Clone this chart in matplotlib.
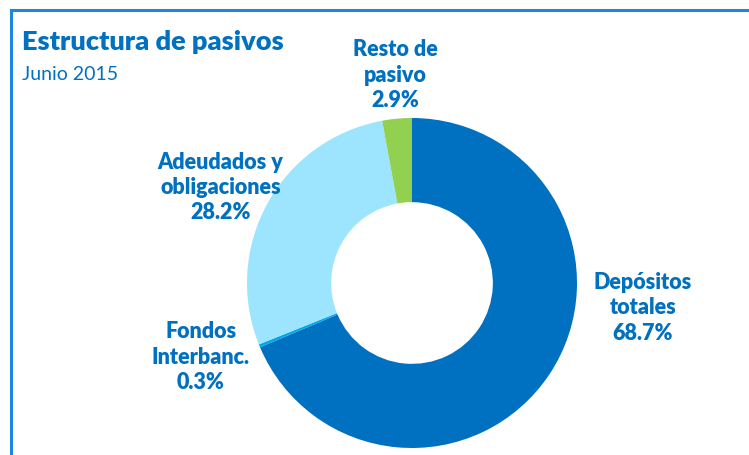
import matplotlib.pyplot as plt
from matplotlib.lines import Line2D

labels = ["Depósitos\ntotales", "Fondos\nInterbanc.", "Adeudados y\nobligaciones", "Resto de\npasivo"]
values = [68.7, 0.3, 28.2, 2.9]
colors = ["#0070C0", "#00A6EC", "#9DE4FE", "#92D050"]
# label positions in axes data units (radius = 1)
label_pos = [(1.40, -0.15), (-1.28, -0.45), (-1.16, 0.58), (-0.10, 1.26)]

blue = "#0070C0"
plt.rcParams["font.family"] = ["Lato", "DejaVu Sans"]

W, H = 749, 455
fig = plt.figure(figsize=(W / 100, H / 100), dpi=100)

# frame (top and left edges only visible)
fig.add_artist(Line2D([11 / W, 11 / W], [0, 1 - 10 / H], color="#1F86E0", lw=2.2))
fig.add_artist(Line2D([11 / W, 1], [1 - 10 / H, 1 - 10 / H], color="#1F86E0", lw=2.2))

cx, cy, r = 412, 283, 165
ax = fig.add_axes([(cx - r) / W, (H - cy - r) / H, 2 * r / W, 2 * r / H])
ax.pie(values, colors=colors, startangle=90, counterclock=False, radius=1,
       wedgeprops=dict(width=0.51, linewidth=0))
ax.set_xlim(-1, 1)
ax.set_ylim(-1, 1)
ax.set_aspect("equal")
ax.axis("off")

for lab, v, (x, y) in zip(labels, values, label_pos):
    ax.text(x, y, f"{lab}\n{v:.1f}%", ha="center", va="center", color=blue,
            fontsize=15.5, fontweight="heavy", linespacing=1.25, clip_on=False)

fig.text(22 / W, 1 - 50 / H, "Estructura de pasivos", color=blue, fontsize=19.5,
         fontweight="heavy", va="baseline")
fig.text(22 / W, 1 - 80 / H, "Junio 2015", color=blue, fontsize=14, va="baseline")

fig.savefig("out.png", dpi=100)
